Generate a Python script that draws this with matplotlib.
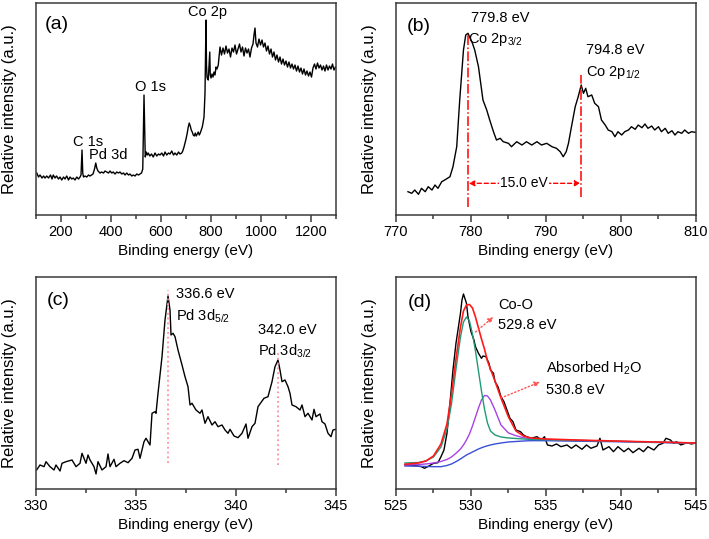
import matplotlib
matplotlib.use('Agg')
import matplotlib.pyplot as plt
import numpy as np

plt.rcParams['font.family'] = ['Liberation Sans', 'DejaVu Sans']
plt.rcParams['mathtext.fontset'] = 'custom'
plt.rcParams['mathtext.rm'] = 'Liberation Sans'
plt.rcParams['mathtext.it'] = 'Liberation Sans:italic'

# ---- (a) survey spectrum ----
survey_ev = [103, 110, 116, 124, 130, 136, 143, 150, 158, 164, 169, 176, 182, 190, 196, 203, 210, 216,
             223, 230, 236, 243, 249, 256, 263, 270, 276, 280, 284, 287, 290, 296, 303, 310, 316, 322,
             328, 334, 339, 343, 348, 356, 362, 370, 376, 383, 390, 396, 403, 409, 416, 423, 430, 436,
             443, 450, 456, 463, 470, 476, 483, 489, 496, 503, 510, 516, 522, 527, 530, 532, 535, 537,
             541, 545, 549, 555, 562, 569, 576, 583, 590, 596, 603, 610, 616, 623, 630, 636, 643, 650,
             656, 663, 670, 676, 683, 687, 692, 696, 700, 705, 709, 713, 717, 721, 725, 729, 733, 737,
             741, 745, 749, 753, 757, 761, 765, 768, 772, 776, 778, 780, 782, 784, 786, 789, 792, 795,
             797, 800, 804, 808, 812, 816, 820, 824, 829, 832, 836, 842, 848, 854, 860, 866, 872, 878,
             884, 890, 896, 902, 908, 914, 920, 926, 932, 938, 944, 950, 956, 962, 968, 972, 976, 980,
             986, 992, 998, 1004, 1010, 1016, 1022, 1028, 1034, 1040, 1046, 1052, 1058, 1064, 1070,
             1076, 1082, 1088, 1094, 1100, 1106, 1112, 1118, 1124, 1130, 1136, 1142, 1148, 1154, 1160,
             1166, 1172, 1178, 1184, 1190, 1196, 1202, 1208, 1214, 1220, 1226, 1232, 1238, 1244, 1250,
             1256, 1262, 1268, 1274, 1280, 1286, 1292, 1298]
survey_int = [42, 38, 40, 37, 39, 37, 39, 37, 40, 36, 40, 37, 39, 36, 38, 35, 38, 36,
              39, 35, 38, 36, 37, 35, 38, 36, 38, 40, 65, 42, 38, 39, 38, 40, 39, 40,
              41, 46, 52, 47, 44, 42, 43, 42, 44, 43, 42, 44, 42, 43, 41, 43, 42, 43,
              41, 42, 40, 42, 40, 41, 39, 40, 39, 41, 40, 41, 42, 46, 90, 120, 80, 58,
              63, 60, 62, 59, 61, 58, 62, 59, 61, 60, 62, 59, 63, 60, 62, 61, 64, 60,
              62, 60, 63, 61, 62, 64, 68, 72, 76, 82, 88, 92, 89, 85, 83, 80, 79, 82,
              79, 81, 83, 80, 82, 85, 88, 92, 98, 122, 160, 195, 150, 138, 136, 135, 150, 163,
              140, 137, 141, 138, 143, 140, 148, 146, 150, 158, 168, 160, 167, 161, 169, 162, 166, 158,
              167, 163, 170, 161, 166, 171, 163, 168, 159, 167, 162, 166, 158, 167, 171, 180, 187, 172,
              168, 176, 170, 175, 168, 172, 164, 169, 161, 166, 158, 163, 155, 160, 153,
              158, 151, 156, 150, 154, 148, 153, 147, 151, 146, 150, 144, 149, 143, 147,
              141, 146, 140, 144, 139, 143, 138, 147, 151, 146, 152, 147, 150, 145, 149,
              144, 150, 145, 149, 146, 151, 145, 148]

# ---- (b) Co 2p ----
co_ev = [771.6, 772.1, 772.5, 773.0, 773.4, 773.9, 774.3, 774.8, 775.2, 775.6, 776.1, 776.5, 777.2,
         777.6, 778.1, 778.5, 779.0, 779.3, 779.6, 779.9, 780.2, 780.5, 781.0, 781.3, 781.6, 782.1,
         782.5, 783.0, 783.4, 783.9, 784.3, 785.0, 785.4, 786.1, 786.8, 787.4, 788.1, 788.8, 789.4,
         790.1, 790.8, 791.4, 791.9, 792.3, 792.7, 793.0, 793.4, 793.9, 794.3, 794.7, 795.0, 795.3,
         795.6, 796.1, 796.5, 797.0, 797.4, 797.9, 798.3, 798.8, 799.2, 799.6, 800.1, 800.5, 801.0,
         801.4, 801.9, 802.3, 802.8, 803.2, 803.6, 804.1, 804.5, 805.0, 805.4, 805.9, 806.3, 806.8,
         807.2, 807.6, 808.1, 808.5, 809.0, 809.4, 809.9]
co_int = [23.3, 21.7, 25, 20.7, 26.7, 23.3, 28.3, 25, 30, 26.7, 33.3, 35, 38.3,
          48.3, 68.3, 115, 165, 180, 181.7, 176.7, 171.7, 165, 148.3, 131.7, 115, 105,
          95, 83.3, 75, 76.7, 73.3, 71.7, 68.3, 73.3, 70, 73.3, 70, 73.3, 70,
          71.7, 68.3, 66.7, 63.3, 58.3, 63.3, 71.7, 88.3, 108.3, 118.3, 130, 121.7, 126.7,
          118.3, 120, 111.7, 108.3, 95, 90, 85, 83.3, 78.3, 83.3, 80, 83.3, 85,
          88.3, 85.7, 90, 87.3, 91, 86.7, 89, 85, 88.3, 83.3, 86.7, 81.7, 84.3,
          80, 83.3, 81.7, 85, 81.7, 83.3, 82.7]
co_peaks = [779.6, 794.7]

# ---- (c) Pd 3d ----
pd_ev = [330.03, 330.2, 330.4, 330.5, 330.7, 330.9, 331.0, 331.2, 331.3, 331.5, 331.8, 332.0, 332.2,
         332.3, 332.5, 332.6, 332.7, 332.9, 333.0, 333.1, 333.3, 333.5, 333.6, 333.7, 333.9, 334.0,
         334.2, 334.4, 334.6, 334.8, 334.95, 335.1, 335.2, 335.4, 335.5, 335.7, 335.8, 335.95, 336.0,
         336.1, 336.3, 336.45, 336.6, 336.7, 336.75, 336.85, 336.95, 337.1, 337.3, 337.45, 337.6,
         337.7, 337.8, 338.0, 338.2, 338.3, 338.45, 338.6, 338.8, 338.95, 339.1, 339.3, 339.45,
         339.6, 339.7, 339.9, 340.1, 340.3, 340.5, 340.6, 340.8, 340.95, 341.1, 341.4, 341.6, 341.8,
         341.95, 342.1, 342.2, 342.3, 342.45, 342.6, 342.7, 342.8, 343.0, 343.2, 343.3, 343.45,
         343.6, 343.8, 343.9, 344.0, 344.2, 344.3, 344.45, 344.6, 344.75, 344.85, 345.0]
pd_int = [19, 24, 22.3, 27.3, 22.3, 19, 24, 18, 25.7, 27.3, 29, 22.3, 25.7,
          35.7, 25.7, 34, 29, 22.3, 15, 27.3, 19, 22.3, 35, 22.3, 29.7, 22.3,
          25.7, 28.3, 26.3, 30.7, 39, 39.7, 30.7, 47.3, 50.7, 44, 75.7, 77.3, 75.7,
          95.7, 132.3, 169, 193, 179, 154, 155.7, 152.3, 139, 124, 112.3, 102.3,
          84, 85.7, 79, 75.7, 79, 65.7, 72.3, 64, 67.3, 62.3, 64, 59,
          55.7, 59.7, 53, 51.3, 55.7, 65, 50.7, 62.3, 65.7, 82.3, 90.7, 92.3, 107.3,
          122.3, 129, 119, 107.3, 109, 102.3, 95.7, 84, 82.3, 79, 84, 72.3,
          75.7, 69, 79.7, 72.3, 75, 67.3, 65, 55.7, 52.3, 59, 59.7]
pd_peaks = [336.6, 342.1]

# ---- (d) O 1s raw + fit ----
o_ev = [525.6, 526.3, 526.7, 526.9, 527.2, 527.5, 527.8, 528.0, 528.2, 528.4, 528.6, 528.8, 529.0,
        529.3, 529.4, 529.5, 529.7, 529.8, 530.0, 530.2, 530.3, 530.5, 530.7, 530.8, 531.0, 531.2,
        531.3, 531.5, 531.6, 531.8, 532.0, 532.2, 532.4, 532.6, 532.8, 533.0, 533.3, 533.5, 533.7,
        534.0, 534.4, 534.7, 534.9, 535.1, 535.4, 535.7, 536.0, 536.4, 536.7, 537.0, 537.4, 537.7,
        538.0, 538.4, 538.6, 538.8, 539.2, 539.5, 539.8, 540.2, 540.5, 540.8, 541.2, 541.5, 541.8,
        542.2, 542.5, 542.8, 543.0, 543.3, 543.5, 543.7, 544.0, 544.4, 544.7, 544.9]
o_int = [24, 23.3, 22.3, 20.7, 23, 25.7, 26.3, 32.3, 39, 55.7, 85.7, 119, 145.7,
         175.7, 189, 195, 185.7, 172.3, 157.3, 149, 142.3, 135.7, 130.7, 133, 132.3, 125.7,
         119, 115.7, 107.3, 102.3, 92.3, 87.3, 79, 70.7, 67.3, 59, 57.3, 54, 52.3,
         50.7, 52.3, 49, 52.3, 44, 43, 45, 42.3, 44, 40.7, 44, 39.7, 44,
         40.7, 43, 50.7, 39, 42.3, 37.3, 42.3, 37.3, 40.7, 36.3, 40.7, 37.3, 42.3,
         39, 44, 45.7, 50.7, 49, 45.7, 47.3, 44, 46.3, 45, 45.7]

fit_ev = [525.6, 526.5, 527.0, 527.5, 528.0, 528.4, 528.7, 529.0, 529.3, 529.5, 529.7, 529.9, 530.1,
          530.3, 530.5, 530.7, 530.9, 531.1, 531.3, 531.6, 532.0, 532.5, 533.0, 533.5, 534.0, 535.0,
          537.0, 540.0, 545.0]
coo_int = [26, 26.5, 28, 32, 42, 60, 85, 120, 152, 167, 172, 168, 155,
           138, 118, 98, 80, 66, 58, 54, 52, 51, 50.5, 50, 49.5, 49.3,
           48.6, 47.6, 46]
h2o_int = [24, 24.5, 25, 26, 27.5, 29.5, 32, 35.7, 40, 44, 49, 55, 63,
           72, 81, 89, 93.5, 93, 89, 79, 64, 56, 53.3, 51.3, 50.3, 49.5,
           48.6, 47.6, 46]
sum_int = [24.7, 26, 28, 33, 45, 65, 95, 130, 162, 178, 184, 184.5, 181,
           172, 161, 150, 140, 128, 120, 108, 91, 72, 58, 53, 51, 50,
           49, 47.8, 46]
bg_int = [23, 22.8, 22.5, 22.3, 22.3, 23.5, 25, 27.3, 30, 32, 34, 35.5, 37,
          38.5, 40, 41.2, 42.3, 43.2, 44, 45, 46, 47, 47.5, 48, 48.3, 48.3,
          47.8, 47.2, 45.7]

GREY = '#3a3a3a'


def style_axes(ax, xlim, major, minor):
    ax.set_xlim(*xlim)
    ax.set_ylim(0, 212)
    ax.set_xticks(np.arange(xlim[0], xlim[1] + 0.01, major))
    ax.set_xticks(np.arange(xlim[0], xlim[1] + 0.01, minor), minor=True)
    ax.set_yticks([])
    for s in ax.spines.values():
        s.set_color(GREY)
        s.set_linewidth(1.1)
    ax.tick_params(axis='x', which='major', direction='out', length=5, width=1.1,
                   color=GREY, labelsize=10.5, pad=2.5)
    ax.tick_params(axis='x', which='minor', direction='out', length=3, width=1.1, color=GREY)
    ax.set_xlabel('Binding energy (eV)', fontsize=11, labelpad=3)
    ax.set_ylabel('Relative intensity (a.u.)', fontsize=12)
    ax.yaxis.set_label_coords(-0.063, 0.5)


fig = plt.figure(figsize=(7.09, 5.39), dpi=100)
ax_a = fig.add_axes([0.0508, 0.6011, 0.4231, 0.3933])
ax_b = fig.add_axes([0.5585, 0.6011, 0.4231, 0.3933])
ax_c = fig.add_axes([0.0508, 0.0928, 0.4231, 0.3933])
ax_d = fig.add_axes([0.5585, 0.0928, 0.4231, 0.3933])

# (a)
ax_a.plot(survey_ev, survey_int, color='black', lw=1)
style_axes(ax_a, (100, 1300), 200, 100)
ax_a.set_xticks([200, 400, 600, 800, 1000, 1200])
ax_a.text(0.03, 0.90, '(a)', transform=ax_a.transAxes, fontsize=14, va='center')
ax_a.text(784, 203, 'Co 2p', fontsize=10.5, ha='center', va='center')
ax_a.text(557, 128, 'O 1s', fontsize=10.5, ha='center', va='center')
ax_a.text(307, 73, 'C 1s', fontsize=10.5, ha='center', va='center')
ax_a.text(389, 60, 'Pd 3d', fontsize=10.5, ha='center', va='center')

# (b)
ax_b.plot(co_ev, co_int, color='black', lw=1)
style_axes(ax_b, (770, 810), 10, 5)
ax_b.plot([co_peaks[0]] * 2, [8, 180], color='red', ls='-.', lw=1.1)
ax_b.plot([co_peaks[1]] * 2, [18, 140], color='red', ls='-.', lw=1.1)
ax_b.annotate('', xy=(co_peaks[1] - 0.1, 31.7), xytext=(co_peaks[0] + 0.1, 31.7),
              arrowprops=dict(arrowstyle='<|-|>', color='red', ls=(0, (3, 2)), lw=1,
                              mutation_scale=8, shrinkA=0, shrinkB=0))
ax_b.text(787.1, 31.7, '15.0 eV', fontsize=10, ha='center', va='center',
          bbox=dict(facecolor='white', edgecolor='none', pad=1))
ax_b.text(0.037, 0.888, '(b)', transform=ax_b.transAxes, fontsize=14, va='center')
ax_b.text(780.0, 197.5, '779.8 eV', fontsize=10.5, ha='left', va='center')
ax_b.text(779.6, 176, 'Co 2p$_{\\mathregular{3/2}}$', fontsize=10.5, ha='left', va='center')
ax_b.text(795.3, 165, '794.8 eV', fontsize=10.5, ha='left', va='center')
ax_b.text(795.3, 143, 'Co 2p$_{\\mathregular{1/2}}$', fontsize=10.5, ha='left', va='center')

# (c)
ax_c.plot(pd_ev, pd_int, color='black', lw=1)
style_axes(ax_c, (330, 345), 5, 2.5)
ax_c.plot([pd_peaks[0]] * 2, [25.7, 199], color='#ff8fa0', ls=':', lw=1.3)
ax_c.plot([pd_peaks[1]] * 2, [24, 137], color='#ff8fa0', ls=':', lw=1.3)
ax_c.text(0.037, 0.89, '(c)', transform=ax_c.transAxes, fontsize=14, va='center')
ax_c.text(337.0, 195, '336.6 eV', fontsize=10.5, ha='left', va='center')
ax_c.text(337.0, 173, 'Pd 3d$_{\\mathregular{5/2}}$', fontsize=10.5, ha='left', va='center')
ax_c.text(341.1, 159, '342.0 eV', fontsize=10.5, ha='left', va='center')
ax_c.text(341.1, 138, 'Pd 3d$_{\\mathregular{3/2}}$', fontsize=10.5, ha='left', va='center')

# (d)
ax_d.plot(o_ev, o_int, color='black', lw=1)
ax_d.plot(fit_ev, bg_int, color='#3a4fd8', lw=1)
ax_d.plot(fit_ev, h2o_int, color='#a742e8', lw=1)
ax_d.plot(fit_ev, coo_int, color='#1f9a78', lw=1)
ax_d.plot(fit_ev, sum_int, color='#ff1a1a', lw=1.2)
style_axes(ax_d, (525, 545), 5, 2.5)
arrow_kw = dict(arrowstyle='-|>', color='#ff5555', ls=':', lw=1, mutation_scale=8,
                shrinkA=0, shrinkB=0)
ax_d.annotate('', xy=(531.5, 172), xytext=(530.3, 157), arrowprops=arrow_kw)
ax_d.annotate('', xy=(534.6, 107), xytext=(532.0, 91), arrowprops=arrow_kw)
ax_d.text(0.04, 0.88, '(d)', transform=ax_d.transAxes, fontsize=14, va='center')
ax_d.text(531.8, 184, 'Co-O', fontsize=10.5, ha='left', va='center')
ax_d.text(531.8, 164, '529.8 eV', fontsize=10.5, ha='left', va='center')
ax_d.text(535.0, 121, 'Absorbed H$_{\\mathregular{2}}$O', fontsize=10.5, ha='left', va='center')
ax_d.text(535.0, 99, '530.8 eV', fontsize=10.5, ha='left', va='center')

fig.savefig('out.png', dpi=100)
